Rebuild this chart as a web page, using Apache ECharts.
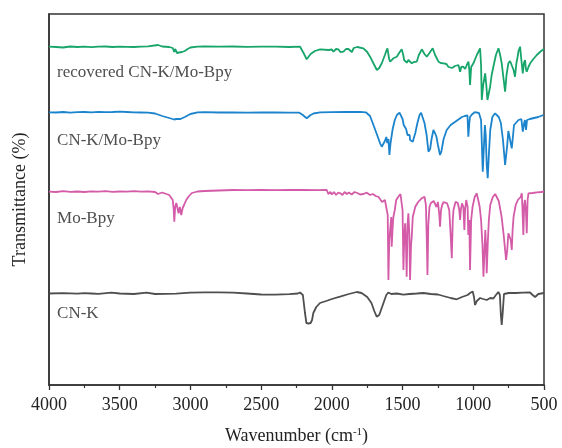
<!DOCTYPE html>
<html>
<head>
<meta charset="utf-8">
<script src="https://cdn.jsdelivr.net/npm/echarts@6/dist/echarts.min.js"></script>
<style>
html,body{margin:0;padding:0;background:#fff;}
#chart{width:562px;height:448px;}
</style>
</head>
<body>
<div id="chart"></div>
<script>
// Wavenumber (cm-1) vs. stacked transmittance (arbitrary offset units)
const xTicks = [4000, 3500, 3000, 2500, 2000, 1500, 1000, 500];
const seriesNames = ["recovered CN-K/Mo-Bpy", "CN-K/Mo-Bpy", "Mo-Bpy", "CN-K"];
const seriesColors = ["#17a56a", "#1b84cc", "#d45ba8", "#4f4f4f"];

const recovered = [
[4000,338.3],[3950,338],[3900,337.5],[3850,338.5],[3800,338],[3750,338.4],[3700,337.8],[3650,338.3],[3600,338.5],[3550,338],[3500,338.4],[3450,338.2],[3400,338],[3350,338.3],[3300,338.6],[3229,340],[3200,338.5],[3150,338],[3125,337],[3115,333],[3108,336],[3095,332],[3080,332.5],[3060,333],[3040,334],[3020,336],[3000,337.5],[2950,338.3],[2900,338.5],[2800,338.3],[2700,338.5],[2600,338.2],[2500,338.4],[2400,338.3],[2300,338],[2225,338.3],[2200,332],[2178,325.7],[2150,331],[2120,334],[2083,335.7],[2024,335],[2010,333],[2000,335.5],[1989,333.3],[1970,336],[1954,335.7],[1940,333],[1918,333.3],[1900,336],[1883,336],[1859,333],[1845,337],[1836,339],[1820,338],[1812,337.7],[1777,336.7],[1750,333],[1730,328.3],[1700,320],[1682,315],[1665,317],[1647,321.7],[1625,330],[1617,333.3],[1607,336.7],[1595,326],[1588,323.3],[1565,326.7],[1541,328.3],[1520,333],[1506,335.7],[1495,330],[1489,325],[1480,324],[1470,322.3],[1459,325],[1450,323],[1435,321.7],[1420,323],[1400,323.3],[1385,330],[1364,335.7],[1345,331],[1329,328.3],[1310,332],[1287,336.7],[1270,330],[1246,323.3],[1230,322],[1211,321.7],[1190,321],[1175,318],[1164,320],[1150,317],[1140,315],[1130,319],[1117,318.3],[1105,320],[1093,313.3],[1085,318],[1070,318.3],[1058,316],[1046,320],[1034,323.3],[1028,315],[1023,300],[1015,318],[999,321.7],[975,330],[952,336.7],[945,320],[940,285],[930,300],[916,311.7],[908,300],[900,285],[890,292],[881,298.3],[870,310],[858,318.3],[840,330],[822,336.7],[810,330],[799,321.7],[785,305],[775,293.3],[765,310],[752,321.7],[740,324],[728,323.3],[715,315],[705,308.3],[695,322],[688,327],[680,334],[669,338.3],[660,325],[650,311.7],[642,322],[634,325],[628,316],[622,313.3],[610,318],[598,321.7],[575,326],[551,330],[520,334],[500,336]
];

const cnkMo = [
[4000,272.7],[3950,272.5],[3900,273],[3850,272.3],[3800,272.8],[3750,273],[3700,272.6],[3650,273.2],[3600,272.8],[3550,273],[3500,273.3],[3450,273],[3400,272.7],[3350,272.5],[3300,272.3],[3250,271.5],[3230,270.5],[3200,269],[3150,267],[3115,265.5],[3108,264],[3100,266],[3090,264.5],[3070,266],[3040,268],[3000,271],[2990,272],[2950,272.7],[2900,272.8],[2800,272.5],[2700,272.6],[2600,272.4],[2500,272.7],[2400,272.5],[2300,272.3],[2230,272.3],[2210,270.5],[2178,266.7],[2150,270],[2130,271.5],[2083,272.6],[2000,272.8],[1900,273],[1800,273.2],[1760,272.7],[1730,269],[1706,260],[1680,250],[1659,241.7],[1647,238.3],[1635,239],[1625,244],[1615,248],[1608,242],[1600,246],[1593,230],[1585,242],[1570,256],[1555,265],[1540,270],[1522,272.3],[1511,272.3],[1500,266],[1492,260],[1489,258.3],[1482,262],[1475,256],[1465,250],[1459,248.3],[1450,250],[1447,245],[1440,247],[1428,243.3],[1410,252],[1395,262],[1380,270],[1369,272.3],[1357,271],[1345,262],[1330,250],[1317,233.3],[1305,236],[1295,246],[1282,255],[1270,251.7],[1260,248],[1250,240],[1235,230],[1225,234],[1210,246],[1188,255],[1175,255.5],[1160,260],[1140,262],[1120,264],[1100,266],[1090,265],[1080,268],[1070,266.5],[1060,269],[1050,268],[1041,269.5],[1035,248.3],[1028,262],[1023,268],[1010,270.5],[990,272.8],[976,273.3],[960,272],[945,265],[933,213.3],[926,235],[918,260],[912,250],[905,220],[898,206.7],[890,230],[880,255],[865,268],[846,271.7],[834,272],[820,268],[805,262],[790,245],[775,220],[768,218.3],[760,240],[752,254],[740,255],[728,236.7],[720,248],[712,260],[700,262],[680,265],[660,266],[650,253.3],[646,251.7],[640,262],[635,265],[627,255],[620,265],[600,266],[570,267],[540,268],[504,270]
];

const moBpy = [
[4000,193.3],[3950,193],[3900,193.8],[3850,193.2],[3800,193.5],[3750,193],[3700,193.6],[3650,193.3],[3600,193.8],[3550,193.2],[3500,193.5],[3450,193.3],[3400,193.8],[3350,193.4],[3300,193.6],[3250,193],[3229,191],[3200,192.5],[3150,190],[3125,185],[3118,175],[3114,163.3],[3108,178],[3100,182],[3090,176],[3084,171.7],[3075,178],[3065,170],[3055,177],[3045,180],[3030,185],[3010,189],[2990,192],[2950,193.5],[2900,194],[2800,194.5],[2700,195],[2600,194.8],[2500,195],[2400,194.8],[2300,195.2],[2200,195],[2100,194.8],[2036,195],[2025,191],[2010,193],[2000,190.5],[1985,193],[1970,190],[1955,192.5],[1940,191.7],[1925,190],[1910,193],[1895,191],[1880,192.5],[1860,190.5],[1840,193],[1820,192],[1800,190.5],[1777,191],[1753,192.3],[1730,190],[1710,191],[1690,189],[1670,188],[1659,186.7],[1645,183],[1636,181.7],[1625,185],[1615,183],[1605,170],[1600,105],[1594,145],[1588,145],[1580,168],[1577,138.3],[1570,158],[1565,168],[1555,175],[1545,185],[1530,188.3],[1515,191],[1506,191.7],[1500,175],[1494,115],[1488,148],[1482,161.7],[1476,140],[1471,108.3],[1465,160],[1459,171.7],[1452,150],[1447,105],[1440,140],[1435,148.3],[1428,168],[1410,178.3],[1390,183],[1365,186.7],[1345,188.3],[1335,180],[1328,140],[1324,110],[1318,160],[1310,178],[1300,182],[1280,184],[1270,182],[1260,178],[1250,183],[1240,170],[1235,158.3],[1228,175],[1220,180],[1210,183],[1200,183.3],[1185,181.7],[1170,175],[1160,150],[1152,126.7],[1145,165],[1140,175],[1125,183.3],[1110,182],[1100,176],[1093,165],[1088,175],[1080,181.7],[1070,178],[1063,155],[1058,175],[1050,185],[1040,178],[1035,150],[1028,165],[1023,115],[1015,165],[1005,178.3],[990,188],[976,191.7],[965,185],[955,178.3],[945,165],[935,140],[928,108.3],[922,130],[915,155],[910,140],[905,111.7],[898,140],[890,165],[880,180],[862,188],[845,191],[834,191.7],[820,184],[800,168.3],[785,150],[775,135],[768,125],[760,135],[752,151.7],[745,150],[735,145],[728,135],[722,155],[715,168.3],[700,180],[685,185],[665,188],[657,191.7],[652,175],[646,150],[640,180],[635,185],[628,175],[622,151.7],[616,185],[610,191.7],[580,192],[550,192.6],[520,193],[500,193.5]
];

const cnk = [
[4000,91.5],[3900,91.8],[3800,91.3],[3750,91.8],[3700,91.5],[3650,91.2],[3560,92.3],[3500,91.5],[3400,91],[3310,92.3],[3250,91],[3100,91.3],[3000,92.3],[2900,92.6],[2800,92.7],[2700,92.3],[2600,91.5],[2500,90.5],[2400,90.3],[2300,90.8],[2240,91.5],[2225,92.5],[2205,90],[2190,72],[2180,62],[2165,61.5],[2150,62],[2140,65],[2131,72],[2110,78],[2084,82],[2040,84],[2000,86],[1942,88.3],[1880,91],[1824,93],[1790,92],[1750,88],[1720,82],[1700,74],[1683,68.3],[1665,70],[1640,80],[1615,90],[1601,92.5],[1580,91],[1540,91.5],[1495,90.3],[1450,91],[1400,91.5],[1353,92],[1300,91],[1250,90.5],[1212,89],[1160,87],[1117,85.7],[1080,88],[1040,90],[1023,92],[1004,93.5],[995,88],[988,80],[975,84],[952,87],[930,86],[905,85],[880,87],[858,86.5],[840,90],[823,93],[812,90],[805,70],[799,60],[792,72],[783,91],[750,92],[700,92],[650,92.3],[599,92.5],[580,90],[563,88],[540,91],[520,91.5],[500,92]
];

// label anchor positions [wavenumber, value]
const labelPos = [[3943,312],[3943,244],[3943,166],[3943,71]];

const serif = "'Liberation Serif','Times New Roman',serif";
const allData = [recovered, cnkMo, moBpy, cnk];

const chart = echarts.init(document.getElementById('chart'), null, {renderer:'canvas'});
const series = allData.map((d,i)=>({
  name: seriesNames[i], type:'line', data:d, showSymbol:false, symbol:'none',
  lineStyle:{color:seriesColors[i], width:1.8}, itemStyle:{color:seriesColors[i]},
  animation:false, z:2
}));
series.push({
  type:'scatter', symbolSize:0, animation:false, silent:true,
  data: labelPos.map((p,i)=>({value:p, name:seriesNames[i]})),
  label:{show:true, position:'right', distance:0, formatter:p=>p.name,
    fontFamily:serif, fontSize:17, color:'#222'}
});

chart.setOption({
  backgroundColor:'#fff',
  animation:false,
  grid:{left:49, right:18, top:14, bottom:63, outerBoundsMode:'none', containLabel:false,
    show:true, borderColor:'#333', borderWidth:1.5, backgroundColor:'transparent'},
  xAxis:{
    type:'value', min:500, max:4000, interval:500, inverse:true,
    axisLine:{show:true, lineStyle:{color:'#333', width:1.5}},
    axisTick:{show:true, inside:false, length:5, lineStyle:{color:'#333', width:1.3}},
    minorTick:{show:true, splitNumber:2, length:3, lineStyle:{color:'#333', width:1.2}},
    splitLine:{show:false},
    axisLabel:{fontFamily:serif, fontSize:18, color:'#222', margin:11,
      formatter:v=> xTicks.includes(v) ? String(v) : ''},
    name:'Wavenumber (cm{sup|-1})', nameLocation:'middle', nameGap:42,
    nameTextStyle:{fontFamily:serif, fontSize:18, color:'#222',
      rich:{sup:{fontFamily:serif, fontSize:11, color:'#222', verticalAlign:'top', padding:[0,0,8,0]}}}
  },
  yAxis:{
    type:'value', min:0, max:371,
    axisLine:{show:true, lineStyle:{color:'#333', width:1.5}},
    axisTick:{show:false}, axisLabel:{show:false}, splitLine:{show:false},
    name:'Transmittance (%)', nameLocation:'middle', nameGap:20,
    nameTextStyle:{fontFamily:serif, fontSize:18, color:'#222'}
  },
  series: series
});
</script>
</body>
</html>
